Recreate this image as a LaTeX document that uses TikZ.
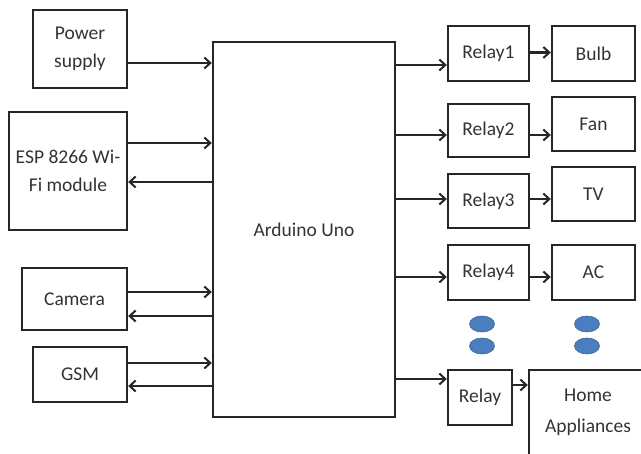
\documentclass[tikz,border=0pt]{standalone}
\usepackage{fontspec}
\setmainfont{Carlito}
\usetikzlibrary{arrows.meta,shapes.geometric}
\definecolor{dotblue}{HTML}{4A7EBF}
\begin{document}
\begin{tikzpicture}[x=1pt,y=-1pt,
  box/.style={draw=black!85, line width=2.4pt, align=center, inner sep=0pt,
    font=\fontsize{19.5}{28}\selectfont, text=black!80},
  arr/.style={line width=2.4pt, draw=black!85, -{Straight Barb[length=6pt,width=11pt,line width=2pt]}},
  blob/.style={ellipse, fill=dotblue, draw=dotblue!80!black, line width=0.6pt, minimum width=25pt, minimum height=16pt, inner sep=0pt}]
\useasboundingbox (0,0) rectangle (641,454);
\begin{scope}
\clip (0,0) rectangle (641,454);
% left column
\node[box, minimum width=94pt, minimum height=78pt] (power) at (80,49) {Power\\supply};
\node[box, minimum width=118pt, minimum height=118pt] (esp) at (68,171) {ESP 8266 Wi-\\Fi module};
\node[box, minimum width=105pt, minimum height=62pt] (cam) at (74.5,299) {Camera};
\node[box, minimum width=94pt, minimum height=55pt] (gsm) at (80,374.5) {GSM};
% centre
\node[box, minimum width=182pt, minimum height=375pt] (ard) at (304,229.5) {Arduino Uno};
% relays
\node[box, minimum width=81pt, minimum height=55pt] (r1) at (488.5,53.5) {Relay1};
\node[box, minimum width=81pt, minimum height=53pt] (r2) at (488.5,130.5) {Relay2};
\node[box, minimum width=81pt, minimum height=54pt] (r3) at (488.5,201) {Relay3};
\node[box, minimum width=81pt, minimum height=55pt] (r4) at (488.5,272.5) {Relay4};
\node[box, minimum width=64pt, minimum height=55pt] (r5) at (480,397.5) {Relay};
% loads
\node[box, minimum width=83pt, minimum height=55pt] (bulb) at (593.5,53.5) {Bulb};
\node[box, minimum width=83pt, minimum height=54pt] (fan) at (593.5,124) {Fan};
\node[box, minimum width=83pt, minimum height=54pt] (tv) at (593.5,194) {TV};
\node[box, minimum width=83pt, minimum height=55pt] (ac) at (593.5,272.5) {AC};
\node[box, minimum width=131pt, minimum height=100pt] (home) at (594.5,420) {};
\node[font=\fontsize{19.5}{31}\selectfont, text=black!80, align=center, inner sep=0pt] (hometext) at (588,412) {Home\\Appliances};
% dots
\node[blob] (d1) at (482,324) {};
\node[blob] (d2) at (482,346) {};
\node[blob] (d3) at (587,324) {};
\node[blob] (d4) at (587,346) {};
% left connections
\draw[arr] ([yshift=-14pt]power.east) -- ([yshift=-14pt]power.east -| ard.west);
\draw[arr] ([yshift=28pt]esp.east) -- ([yshift=28pt]esp.east -| ard.west);
\draw[arr] ([yshift=-11pt]esp.east -| ard.west) -- ([yshift=-11pt]esp.east);
\draw[arr] ([yshift=7pt]cam.east) -- ([yshift=7pt]cam.east -| ard.west);
\draw[arr] ([yshift=-17pt]cam.east -| ard.west) -- ([yshift=-17pt]cam.east);
\draw[arr] ([yshift=11.5pt]gsm.east) -- ([yshift=11.5pt]gsm.east -| ard.west);
\draw[arr] ([yshift=-11.5pt]gsm.east -| ard.west) -- ([yshift=-11.5pt]gsm.east);
% right connections
\draw[arr] ([yshift=-11.5pt]r1.west -| ard.east) -- ([yshift=-11.5pt]r1.west);
\draw[arr] ([yshift=-4.5pt]r2.west -| ard.east) -- ([yshift=-4.5pt]r2.west);
\draw[arr] ([yshift=2pt]r3.west -| ard.east) -- ([yshift=2pt]r3.west);
\draw[arr] ([yshift=-4.5pt]r4.west -| ard.east) -- ([yshift=-4.5pt]r4.west);
\draw[arr] ([yshift=18.5pt]r5.west -| ard.east) -- ([yshift=18.5pt]r5.west);
\draw[arr] ([yshift=1pt]r1.east) -- ([yshift=1pt]r1.east -| bulb.west);
\draw[arr] ([yshift=-4.5pt]r2.east) -- ([yshift=-4.5pt]r2.east -| fan.west);
\draw[arr] ([yshift=2pt]r3.east) -- ([yshift=2pt]r3.east -| tv.west);
\draw[arr] ([yshift=-4.5pt]r4.east) -- ([yshift=-4.5pt]r4.east -| ac.west);
\draw[arr] ([yshift=12.5pt]r5.east) -- ([yshift=12.5pt]r5.east -| home.west);
\end{scope}
\end{tikzpicture}
\end{document}
